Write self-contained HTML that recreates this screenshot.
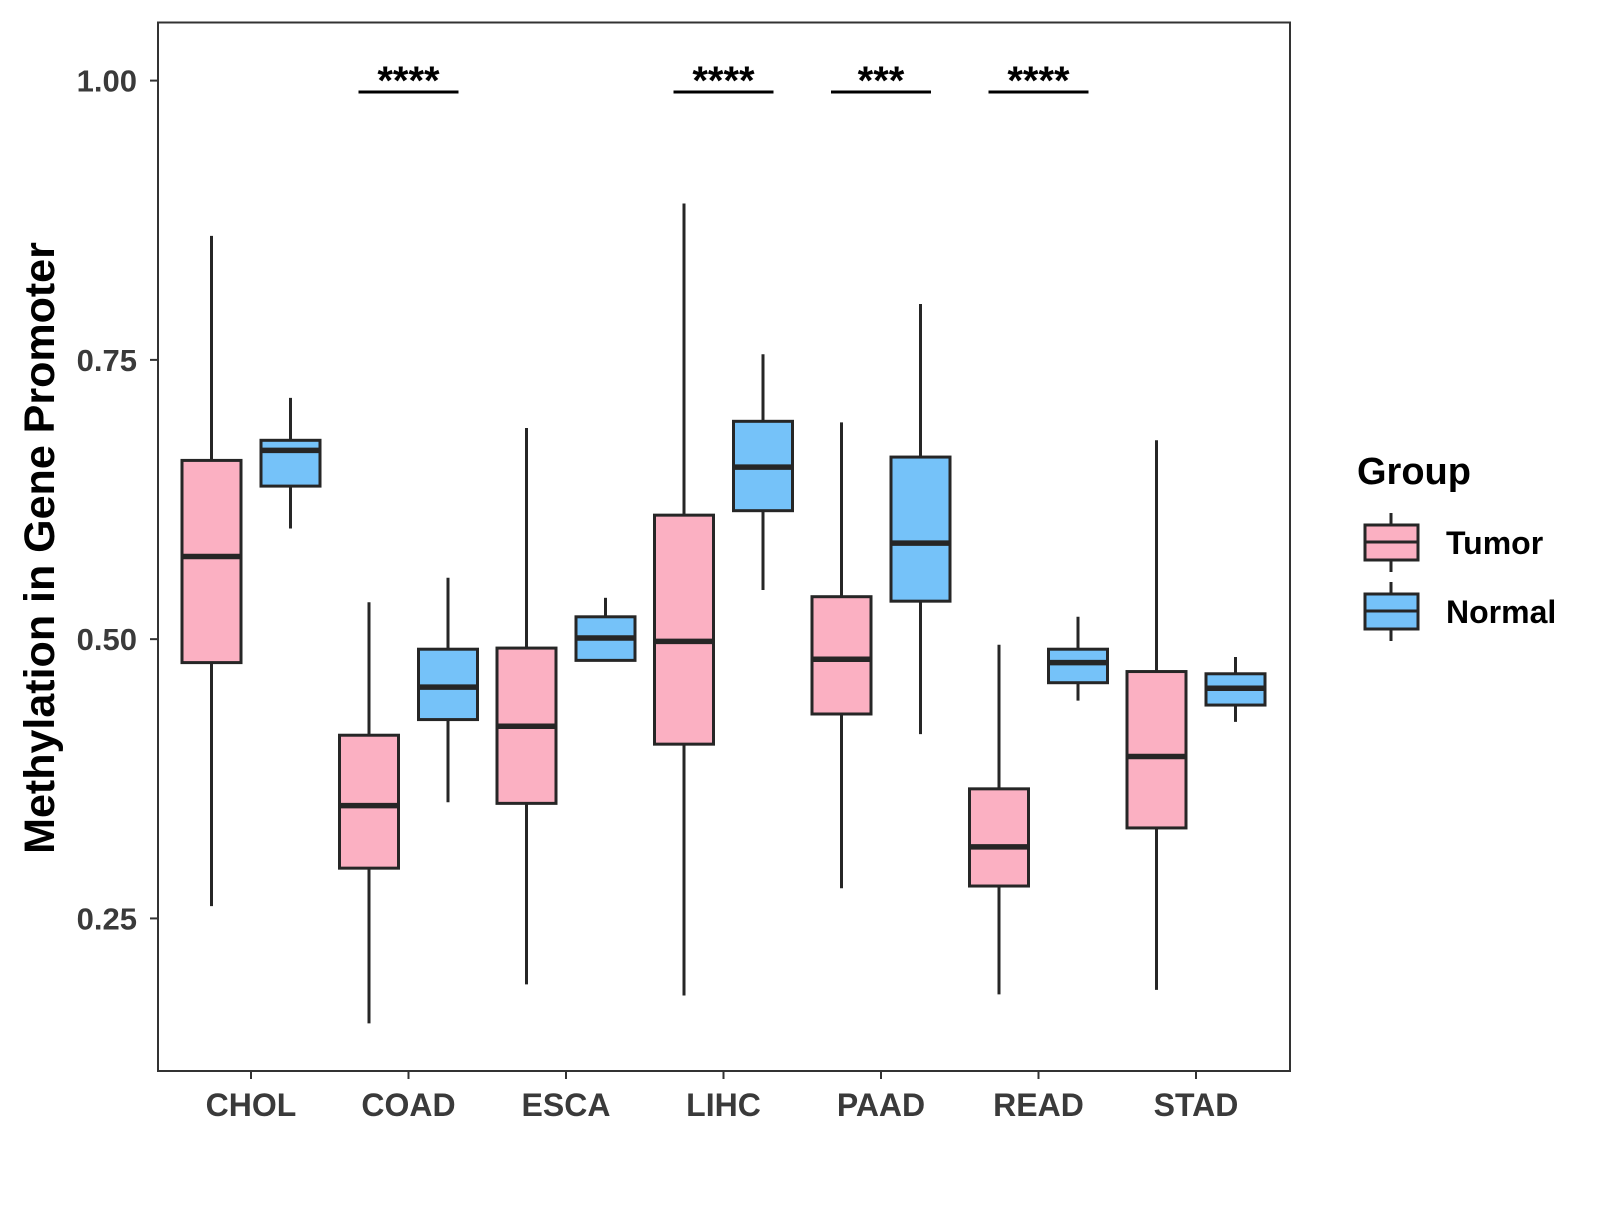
<!DOCTYPE html>
<html><head><meta charset="utf-8"><style>
body{margin:0;background:#fff;}
text{font-family:"Liberation Sans",Arial,sans-serif;font-weight:bold;}
</style></head><body>
<svg id="chart" width="1600" height="1200" xmlns="http://www.w3.org/2000/svg">
<rect x="158" y="22.5" width="1132" height="1048.5" fill="none" stroke="#333" stroke-width="2"/>
<g id="marks"></g>
<text transform="translate(54,548) rotate(-90)" text-anchor="middle" font-size="43" fill="#000">Methylation in Gene Promoter</text>
<g>
<text x="1357" y="484" font-size="38" fill="#000">Group</text>
<g>
<line x1="1391" y1="513" x2="1391" y2="572" stroke="#262626" stroke-width="3"/>
<rect x="1365" y="525" width="53" height="35" fill="#FBB0C2" stroke="#262626" stroke-width="3"/>
<line x1="1365" y1="542" x2="1418" y2="542" stroke="#262626" stroke-width="3"/>
<text x="1446" y="554" font-size="32" fill="#000">Tumor</text></g>
<g>
<line x1="1391" y1="582" x2="1391" y2="641" stroke="#262626" stroke-width="3"/>
<rect x="1365" y="594" width="53" height="35" fill="#75C2F9" stroke="#262626" stroke-width="3"/>
<line x1="1365" y1="611" x2="1418" y2="611" stroke="#262626" stroke-width="3"/>
<text x="1446" y="623" font-size="32" fill="#000">Normal</text></g>
</g>
</svg>
<script>
const categories=["CHOL","COAD","ESCA","LIHC","PAAD","READ","STAD"];
// [low, q1, median, q3, high]
const tumorStats=[[0.261,0.479,0.574,0.660,0.861],[0.156,0.295,0.351,0.414,0.533],[0.191,0.353,0.422,0.492,0.689],[0.181,0.406,0.498,0.611,0.890],[0.277,0.433,0.482,0.538,0.694],[0.182,0.279,0.314,0.366,0.495],[0.186,0.331,0.395,0.471,0.678]];
const normalStats=[[0.599,0.637,0.669,0.678,0.716],[0.354,0.428,0.457,0.491,0.555],[0.481,0.481,0.501,0.520,0.537],[0.544,0.615,0.654,0.695,0.755],[0.415,0.534,0.586,0.663,0.800],[0.445,0.461,0.479,0.491,0.520],[0.426,0.441,0.456,0.469,0.484]];
const yTicks=[0.25,0.50,0.75,1.00];
const yTickLabels=["0.25","0.50","0.75","1.00"];
const sigLabels=["","****","","****","***","****",""];
const NS="http://www.w3.org/2000/svg";
const svg=document.getElementById("chart");
const g=document.getElementById("marks");
function y(v){return 80.6+(1-v)*1117.1;}
function x(i){return 251+i*157.5;}
function mk(tag,attrs,parent){const e=document.createElementNS(NS,tag);for(const k in attrs)e.setAttribute(k,attrs[k]);(parent||g).appendChild(e);return e;}
yTicks.forEach((t,i)=>{
  const tk=mk("line",{x1:150,x2:158,y1:y(t),y2:y(t),stroke:"#333","stroke-width":2});
  
  
  const lb=mk("text",{x:137,y:y(t)+11,"text-anchor":"end","font-size":31,fill:"#3a3a3a"});
  lb.textContent=yTickLabels[i];
  
  
});
categories.forEach((c,i)=>{
  const tk=mk("line",{x1:x(i),x2:x(i),y1:1071,y2:1079,stroke:"#333","stroke-width":2});
  
  
  const lb=mk("text",{x:x(i),y:1116,"text-anchor":"middle","font-size":32,fill:"#3a3a3a"});
  lb.textContent=c;
  
  
  [[tumorStats[i],-39.5,"#FBB0C2","tumor"],[normalStats[i],39.5,"#75C2F9","normal"]].forEach(([s,off,col,nm])=>{
    const cx=x(i)+off,w=59;
    const bg=mk("g",{});
    
    
    mk("line",{x1:cx,x2:cx,y1:y(s[4]),y2:y(s[0]),stroke:"#262626","stroke-width":3},bg);
    mk("rect",{x:cx-w/2,y:y(s[3]),width:w,height:Math.max(0,y(s[1])-y(s[3])),fill:col,stroke:"#262626","stroke-width":3},bg);
    mk("line",{x1:cx-w/2,x2:cx+w/2,y1:y(s[2]),y2:y(s[2]),stroke:"#262626","stroke-width":5.5},bg);
  });
  if(sigLabels[i]){
    const sg=mk("g",{});
    
    
    mk("line",{x1:x(i)-50,x2:x(i)+50,y1:92,y2:92,stroke:"#000","stroke-width":3},sg);
    const t=mk("text",{x:x(i),y:94,"text-anchor":"middle","font-size":40,fill:"#000"},sg);
    t.textContent=sigLabels[i];
  }
});
</script>
</body></html>
